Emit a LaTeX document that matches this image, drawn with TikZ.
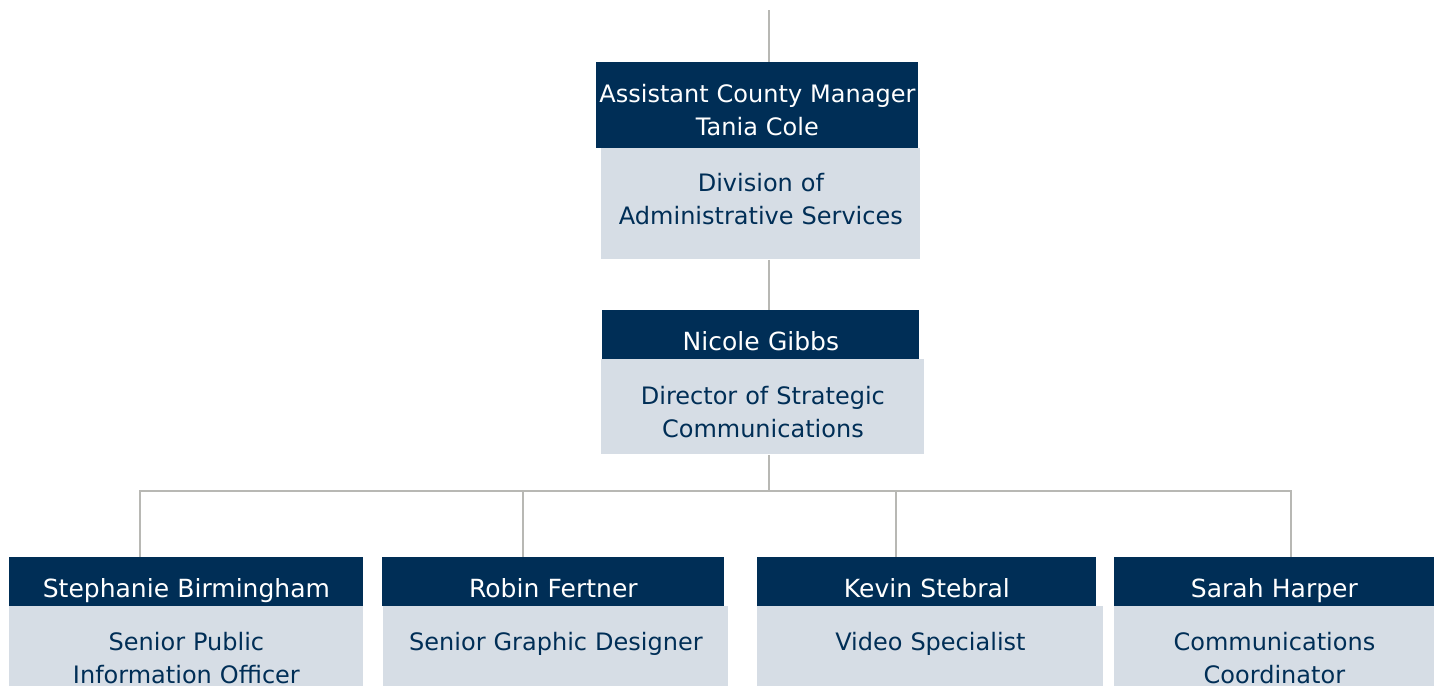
\documentclass[tikz,border=0pt]{standalone}
\usepackage{fontspec}
\setmainfont{DejaVu Sans}
\definecolor{navy}{HTML}{002E56}
\definecolor{paleblue}{HTML}{D6DDE5}
\definecolor{wire}{HTML}{B8B8B4}
\begin{document}
\begin{tikzpicture}[x=0.5pt, y=-0.5pt,
  head/.style={fill=navy, text=white, anchor=north west, inner sep=0pt,
    align=center, font=\fontsize{12.5}{16.5}\selectfont},
  body/.style={fill=paleblue, text=navy, anchor=north west, inner sep=0pt,
    align=center, font=\fontsize{12}{16.5}\selectfont},
  link/.style={draw=wire, line width=1pt}]
\useasboundingbox (0,0) rectangle (1439,686);
\node[head, font=\fontsize{12}{16.5}\selectfont, text width=161pt, text height=20pt, text depth=23pt] (acm) at (596,62)
  {Assistant County Manager\\Tania Cole};
\node[body, text width=159.5pt, text height=21.5pt, text depth=34pt] (acm-div) at (601,148)
  {Division of\\Administrative Services};
\node[head, text width=158.5pt, text height=20pt, text depth=4.5pt] (ng) at (602,310)
  {Nicole Gibbs};
\node[body, text width=161.5pt, text height=22.5pt, text depth=25pt] (ng-job) at (601,359)
  {Director of Strategic\\Communications};
\foreach \n/\x/\w/\bx/\bw/\who/\job in {
  sb/9/177/9/177/{Stephanie Birmingham}/{Senior Public\\Information Officer},
  rf/382/171/383/172.5/{Robin Fertner}/{Senior Graphic Designer},
  ks/757/169.5/757/173/{Kevin Stebral}/{Video Specialist},
  sh/1114/160/1114/160/{Sarah Harper}/{Communications\\Coordinator}} {
\node[head, text width=\w pt, text height=20pt, text depth=4.5pt] (\n) at (\x,557) {\who};
\node[body, text width=\bw pt, text height=22pt, text depth=18pt] (\n-job) at (\bx,606) {\job};
}
\coordinate (top) at (769,10);
\coordinate (bus) at (769,491);
\draw[link] (top) -- (top |- acm.north);
\draw[link] (top |- acm-div.south) -- (top |- ng.north);
\draw[link] (top |- ng-job.south) -- (bus);
\foreach \n/\x in {sb/140, rf/523, ks/896, sh/1291} {
\coordinate (drop-\n) at (\x,491);
\draw[link] (bus) -- (drop-\n) -- (drop-\n |- \n.north);
}
\end{tikzpicture}
\end{document}
